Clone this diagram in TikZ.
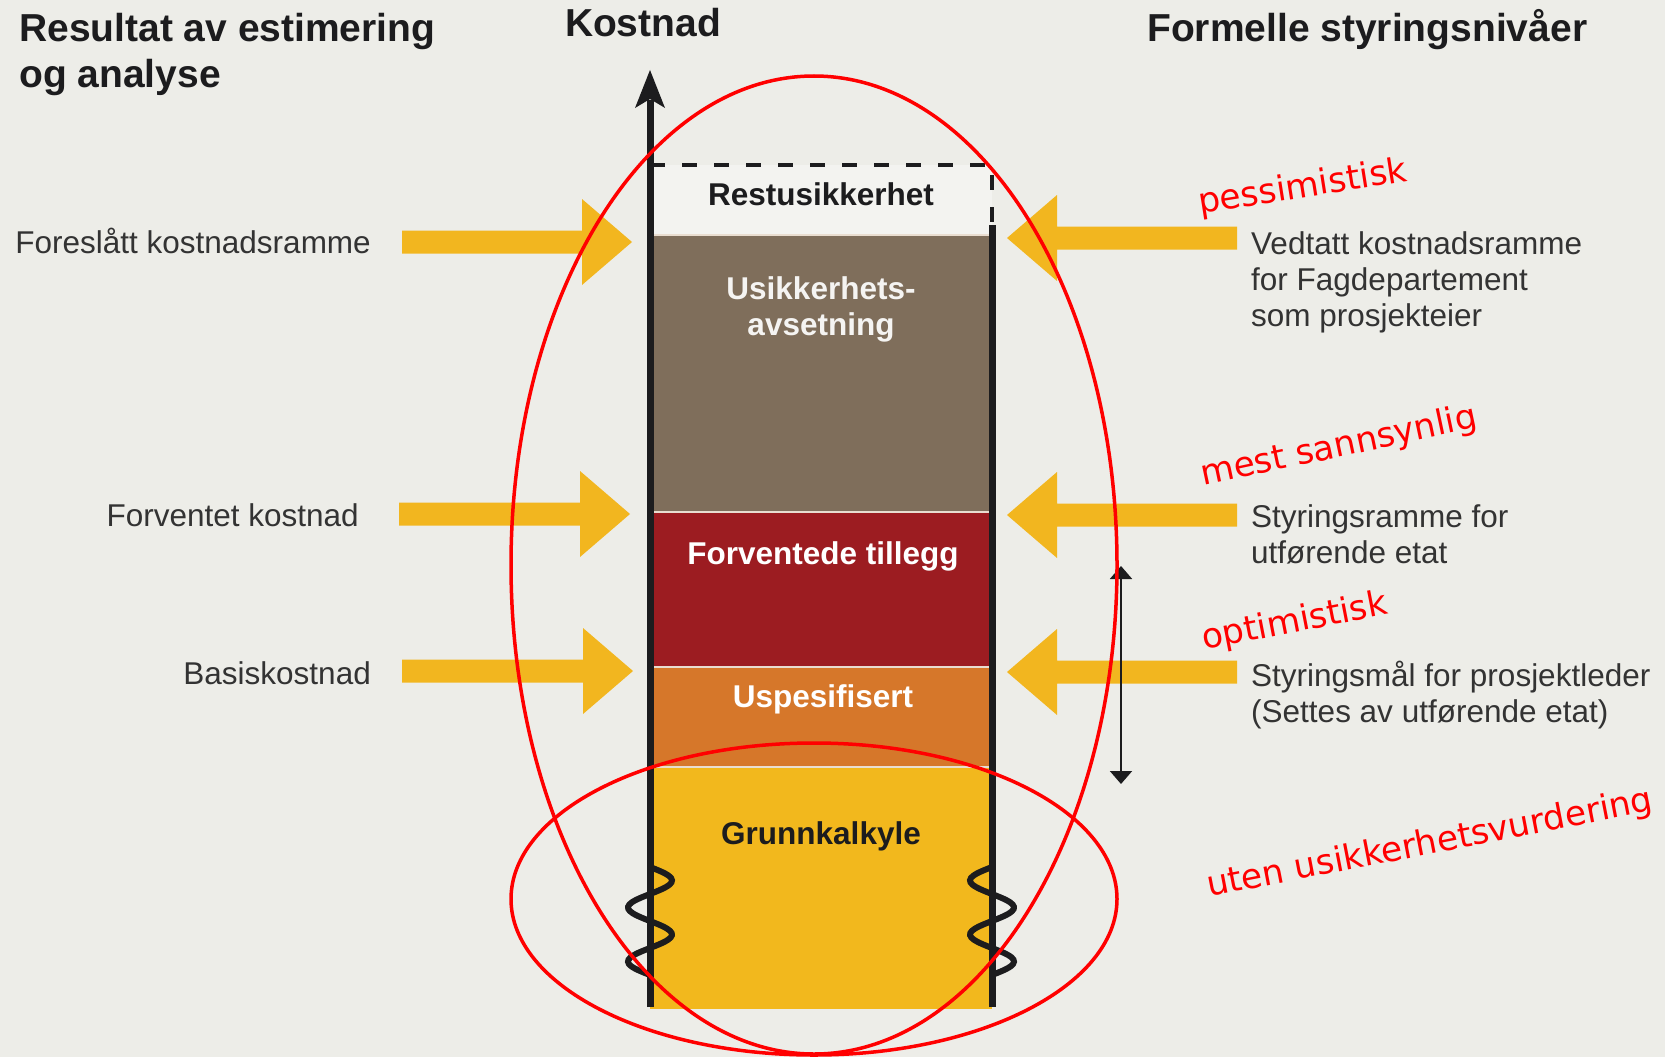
\documentclass[tikz,border=0pt]{standalone}
\usepackage{fontspec}
\setmainfont{Liberation Sans}
\newfontfamily\handfont{DejaVu Sans}
\usetikzlibrary{arrows.meta}
\definecolor{bgc}{HTML}{EDEDE8}
\definecolor{restc}{HTML}{F3F3F0}
\definecolor{brownc}{HTML}{7F6E5B}
\definecolor{redbandc}{HTML}{9C1C21}
\definecolor{orangec}{HTML}{D6772A}
\definecolor{grunnc}{HTML}{F2B81D}
\definecolor{yarrc}{HTML}{F2B61F}
\definecolor{inkc}{HTML}{1C1C1E}
\definecolor{labc}{HTML}{333333}
\definecolor{sepc}{HTML}{E9DDD0}
\definecolor{handc}{HTML}{FF0000}
\tikzset{
  title/.style={font=\fontsize{39}{45}\selectfont\bfseries, text=inkc, inner sep=0pt},
  lab/.style={font=\fontsize{31.5}{36}\selectfont, text=labc, inner sep=0pt},
  boxlab/.style={font=\fontsize{31.5}{36}\selectfont\bfseries, inner sep=0pt},
  hand/.style={font=\handfont\fontsize{34.5}{40}\selectfont, text=handc, inner sep=0pt},
  band/.style={inner sep=0pt, outer sep=0pt, minimum width=342pt},
  axisline/.style={line width=7pt, draw=inkc},
  sepline/.style={line width=2pt, draw=sepc},
  yarr/.style={fill=yarrc},
  redring/.style={draw=handc, line width=3.5pt},
  pics/blockR/.style={code={\fill[yarr] (0,0) -- (-50,-43) -- (-50,-11.5) -- (-#1,-11.5) -- (-#1,11.5) -- (-50,11.5) -- (-50,43) -- cycle;}},
  pics/blockL/.style={code={\fill[yarr] (0,0) -- (50,-43) -- (50,-11.5) -- (#1,-11.5) -- (#1,11.5) -- (50,11.5) -- (50,43) -- cycle;}},
}
\begin{document}
\begin{tikzpicture}[x=1pt,y=-1pt]
\fill[bgc] (0,0) rectangle (1665,1057);
\useasboundingbox (0,0) rectangle (1665,1057);

% titles
\node[title, anchor=base west] (t1) at (19,42) {Resultat av estimering};
\node[title, anchor=base west] (t2) at (19,87) {og analyse};
\node[title, anchor=base] (t3) at (643,37) {Kostnad};
\node[title, anchor=base west] (t4) at (1147,42) {Formelle styringsnivåer};

% bands
\node[band, fill=restc, minimum height=70pt, anchor=north west] (rest) at (650,165) {};
\node[band, fill=brownc, minimum height=277pt, anchor=north west] (usik) at (650,235) {};
\node[band, fill=redbandc, minimum height=155pt, anchor=north west] (forv) at (650,512) {};
\node[band, fill=orangec, minimum height=100pt, anchor=north west] (uspe) at (650,667) {};
\node[band, fill=grunnc, minimum height=242pt, anchor=north west] (grunn) at (650,767) {};
\draw[sepline] (usik.north west) -- (usik.north east);
\draw[sepline] (forv.north west) -- (forv.north east);
\draw[sepline] (uspe.north west) -- (uspe.north east);
\draw[sepline] (grunn.north west) -- (grunn.north east);

% band labels
\node[boxlab, text=inkc, anchor=mid] (lrest) at (821,203) {Restusikkerhet};
\node[boxlab, text=white!92!brownc, anchor=mid] (lusik1) at (821,297) {Usikkerhets-};
\node[boxlab, text=white!92!brownc, anchor=mid] (lusik2) at (821,333) {avsetning};
\node[boxlab, text=white, anchor=mid] (lforv) at (823,562) {Forventede tillegg};
\node[boxlab, text=white, anchor=mid] (luspe) at (823,705) {Uspesifisert};
\node[boxlab, text=inkc, anchor=mid] (lgrunn) at (821,842) {Grunnkalkyle};

% dashed top
\draw[line width=4pt, draw=inkc, dash pattern=on 15pt off 17pt] (rest.north west) -- (rest.north east) -- (992,225);

% axis and right line
\coordinate (axbot) at (650,1007);
\coordinate (axtop) at (650,70);
\coordinate (rbot) at (992,1007);
\coordinate (rtop) at (992,225);
\draw[axisline] (axbot) -- (650,100);
\fill[inkc] (axtop) -- (665,108) -- (650,99) -- (635,108) -- cycle;
\draw[axisline] (rbot) -- (rtop);

% squiggles
\draw[line width=6pt, draw=inkc, line cap=round] plot[smooth, domain=0:108, samples=50] ({650+22*sin(\x/27*180)}, {867+\x});
\draw[line width=6pt, draw=inkc, line cap=round] plot[smooth, domain=0:108, samples=50] ({992-22*sin(\x/27*180)}, {867+\x});

% left labels and arrows
\node[lab, anchor=mid east] (ll1) at (371,251) {Foreslått kostnadsramme};
\node[lab, anchor=mid east] (ll2) at (359,524) {Forventet kostnad};
\node[lab, anchor=mid east] (ll3) at (371,682) {Basiskostnad};
\coordinate (tipL1) at (632,242);
\coordinate (tipL2) at (630,514);
\coordinate (tipL3) at (633,671);
\pic at (tipL1) {blockR=230};
\pic at (tipL2) {blockR=231};
\pic at (tipL3) {blockR=231};

% right arrows and labels
\coordinate (tipR1) at (1007,238);
\coordinate (tipR2) at (1007,515);
\coordinate (tipR3) at (1007,672);
\pic at (tipR1) {blockL=230};
\pic at (tipR2) {blockL=230};
\pic at (tipR3) {blockL=230};
\node[lab, anchor=mid west] (rl1a) at (1251,252) {Vedtatt kostnadsramme};
\node[lab, anchor=mid west] (rl1b) at (1251,288) {for Fagdepartement};
\node[lab, anchor=mid west] (rl1c) at (1251,324) {som prosjekteier};
\node[lab, anchor=mid west] (rl2a) at (1251,525) {Styringsramme for};
\node[lab, anchor=mid west] (rl2b) at (1251,561) {utførende etat};
\node[lab, anchor=mid west] (rl3a) at (1251,684) {Styringsmål for prosjektleder};
\node[lab, anchor=mid west] (rl3b) at (1251,720) {(Settes av utførende etat)};

% double arrow
\coordinate (dtop) at (1121,566);
\coordinate (dbot) at (1121,784);
\draw[line width=2pt, draw=inkc, {Triangle[length=13pt,width=22pt]}-{Triangle[length=13pt,width=22pt]}] (dtop) -- (dbot);

% red annotations
\draw[redring] (814,565) ellipse [x radius=303, y radius=489];
\draw[redring] (814,899) ellipse [x radius=303, y radius=156];
\node[hand, rotate=9, anchor=base west] (h1) at (1200,214) {pessimistisk};
\node[hand, rotate=12, anchor=base west] (h2) at (1203,486) {mest sannsynlig};
\node[hand, rotate=11, anchor=base west] (h3) at (1204,650) {optimistisk};
\node[hand, rotate=11, anchor=base west] (h4) at (1209,897) {uten usikkerhetsvurdering};
\end{tikzpicture}
\end{document}
